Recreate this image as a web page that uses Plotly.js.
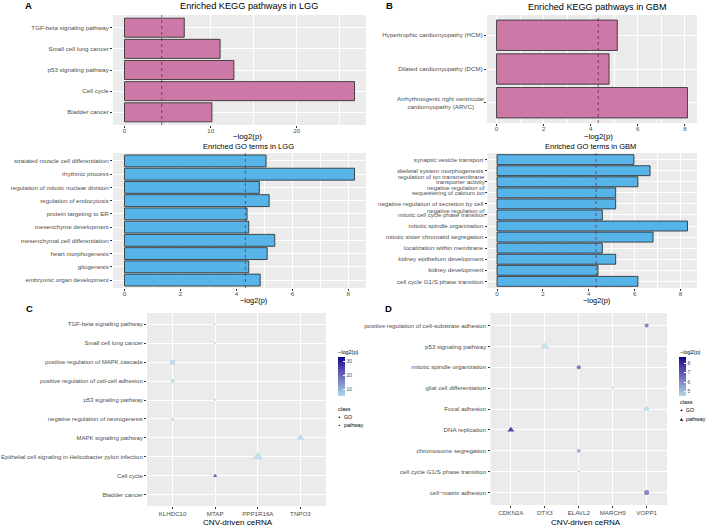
<!DOCTYPE html>
<html><head><meta charset="utf-8">
<script src="https://cdn.plot.ly/plotly-3.0.1.min.js"></script>
<style>html,body{margin:0;padding:0;background:#fff}#chart{width:708px;height:527px}</style>
</head><body><div id="chart"></div>
<script>
// ---------- Panel A : LGG ----------
const keggLggTerms = ["TGF-beta signaling pathway","Small cell lung cancer","p53 signaling pathway","Cell cycle","Bladder cancer"];
const keggLggVals  = [6.94, 11.1, 12.7, 26.7, 10.15];
const goLggTerms = ["straiated muscle cell differentiation","rhythmic process","regulation of mitotic nuclear division","regulation of endocytosis","protein targeting to ER","mesenchyme development","mesenchymal cell differentiation","heart morphogenesis","gliogenesis","embryonic organ development"];
const goLggVals  = [5.06, 8.22, 4.82, 5.17, 4.38, 4.44, 5.37, 5.10, 4.44, 4.85];
// ---------- Panel B : GBM ----------
const keggGbmTerms = ["Hypertrophic cardiomyopathy (HCM)","Dilated cardiomyopathy (DCM)","Arrhythmogenic right ventricular<br>cardiomyopathy (ARVC)"];
const keggGbmVals  = [5.13, 4.78, 8.11];
const goGbmTerms = ["synaptic vesicle transport","skeletal system morphogenesis","regulation of ion transmembrane<br>transporter activity","negative regulation of<br>sequestering of calcium ion","negative regulation of secretion by cell","negative regulation of<br>mitotic cell cycle phase transition","mitotic spindle organization","mitotic sister chromatid segregation","localization within membrane","kidney epithelium development","kidney development","cell cycle G1/S phase transition"];
const goGbmVals  = [5.97, 6.67, 6.14, 5.17, 5.17, 4.59, 8.30, 6.80, 4.59, 5.17, 4.40, 6.14];
const pCutoff = 4.32; // -log2(0.05)
// ---------- Panel C ----------
const cTerms = ["TGF-beta signaling pathway","Small cell lung cancer","positive regulation of MAPK cascade","positive regulation of cell-cell adhesion","p53 signaling pathway","negative regulation of neurogenesis","MAPK signaling pathway","Epithelial cell signaling in Helicobacter pylori infection","Cell cycle","Bladder cancer"];
const cGenes = ["KLHDC10","MTAP","PPP1R16A","TNPO3"];
const cPointTerm  = ["TGF-beta signaling pathway","Small cell lung cancer","positive regulation of MAPK cascade","positive regulation of cell-cell adhesion","p53 signaling pathway","negative regulation of neurogenesis","MAPK signaling pathway","Epithelial cell signaling in Helicobacter pylori infection","Cell cycle","Bladder cancer"];
const cPointGene  = ["MTAP","MTAP","KLHDC10","KLHDC10","MTAP","KLHDC10","TNPO3","PPP1R16A","MTAP","MTAP"];
const cPointVal   = [7.0, 11.1, 6.0, 5.6, 12.7, 5.3, 6.0, 5.0, 32.9, 10.1];
const cPointCount = [1, 1, 5.8, 3.3, 1, 2.3, 10.7, 20, 2.8, 0.2];
const cPointClass = ["pathway","pathway","GO","GO","pathway","GO","pathway","pathway","pathway","pathway"];
// ---------- Panel D ----------
const dTerms = ["positive regulation of cell-substrate adhesion","p53 signaling pathway","mitotic spindle organization","glial cell differentiation","Focal adhesion","DNA replication","chromosome segregation","cell cycle G1/S phase transition","cell\u2212matrix adhesion"];
const dGenes = ["CDKN2A","DTX3","ELAVL2","MARCH9","VOPP1"];
const dPointTerm  = ["positive regulation of cell-substrate adhesion","p53 signaling pathway","mitotic spindle organization","glial cell differentiation","Focal adhesion","DNA replication","chromosome segregation","cell cycle G1/S phase transition","cell\u2212matrix adhesion"];
const dPointGene  = ["VOPP1","DTX3","ELAVL2","MARCH9","VOPP1","CDKN2A","ELAVL2","ELAVL2","VOPP1"];
const dPointVal   = [7.2, 4.55, 7.6, 5.0, 4.7, 8.7, 6.2, 7.0, 7.2];
const dPointCount = [3.3, 12.6, 3.3, 0.83, 8.2, 7.7, 2.8, 0.35, 5.2];
const dPointClass = ["GO","pathway","GO","GO","pathway","pathway","GO","GO","GO"];

// ---------- helpers ----------
const W = 708, H = 527;
const px = x => x / W;
const py = y => 1 - y / H;
const FONT = "Liberation Sans, Arial, Helvetica, sans-serif";
const TICKCOL = '#4D4D4D';
const sizeOf = c => 2.2 * Math.sqrt(c);

// Lab interpolation (ggplot-style gradient) lightblue -> darkblue
function lin(c){c/=255;return c<=0.04045?c/12.92:Math.pow((c+0.055)/1.055,2.4);}
function unlin(c){c=c<=0.0031308?12.92*c:1.055*Math.pow(c,1/2.4)-0.055;return Math.max(0,Math.min(255,Math.round(c*255)));}
function rgb2lab(r,g,b){const R=lin(r),G=lin(g),B=lin(b);
  let X=(0.4124*R+0.3576*G+0.1805*B)/0.95047,Y=(0.2126*R+0.7152*G+0.0722*B),Z=(0.0193*R+0.1192*G+0.9505*B)/1.08883;
  const f=t=>t>0.008856?Math.cbrt(t):7.787*t+16/116;const fx=f(X),fy=f(Y),fz=f(Z);
  return [116*fy-16,500*(fx-fy),200*(fy-fz)];}
function lab2rgb(L,a,b){const fy=(L+16)/116,fx=fy+a/500,fz=fy-b/200;
  const fi=t=>t>0.206893?t*t*t:(t-16/116)/7.787;const X=fi(fx)*0.95047,Y=fi(fy),Z=fi(fz)*1.08883;
  const R=3.2406*X-1.5372*Y-0.4986*Z,G=-0.9689*X+1.8758*Y+0.0415*Z,B=0.0557*X-0.2040*Y+1.0570*Z;
  return 'rgb('+unlin(R)+','+unlin(G)+','+unlin(B)+')';}
const lo = rgb2lab(173,216,230), hi = rgb2lab(0,0,139);
const cscale = [];
for(let i=0;i<=10;i++){const t=i/10;cscale.push([t,lab2rgb(lo[0]+(hi[0]-lo[0])*t,lo[1]+(hi[1]-lo[1])*t,lo[2]+(hi[2]-lo[2])*t)]);}

const baseAxis = {
  showline:false, zeroline:false, gridcolor:'#FFFFFF', gridwidth:1,
  ticks:'outside', ticklen:2, tickwidth:0.6, tickcolor:'#333333',
  tickfont:{size:6.2,color:TICKCOL,family:FONT}, automargin:false, fixedrange:true
};
function xBar(l,r,vals,dtick,anchor){
  const m = Math.max(...vals);
  return Object.assign({},baseAxis,{domain:[px(l),px(r)],range:[-0.05*m,1.05*m],tick0:0,dtick:dtick,anchor:anchor,
    ticklabelstandoff:-2,
    minor:{dtick:dtick/2,tick0:0,showgrid:true,gridcolor:'#FFFFFF',gridwidth:0.5,ticks:''}});
}
// category y axis; multi-line labels are drawn as annotations (tight line spacing as in the reference)
function yCat(t,b,cats,anchor,fs){
  const ax = Object.assign({},baseAxis,{domain:[py(b),py(t)],type:'category',categoryorder:'array',categoryarray:cats,
    range:[cats.length-0.4,-0.6],anchor:anchor,tickmode:'array',tickvals:cats,
    ticktext:cats.map(c=>c.indexOf('<br>')>=0?'':c)});
  if(fs) ax.tickfont = {size:fs,color:TICKCOL,family:FONT};
  return ax;
}
function xCat(l,r,cats,anchor){
  return Object.assign({},baseAxis,{domain:[px(l),px(r)],type:'category',categoryorder:'array',categoryarray:cats,
    range:[-0.6,cats.length-0.4],anchor:anchor});
}
function catCenter(t,b,cats,i){ return t + (i+0.6)*(b-t)/(cats.length+0.2); }

function barTrace(vals,terms,color,xa,ya){
  return {type:'bar',orientation:'h',x:vals,y:terms,xaxis:xa,yaxis:ya,width:0.9,
    marker:{color:color,line:{color:'#222222',width:0.8}},hoverinfo:'x+y',showlegend:false};
}
function dotTraces(terms,genes,vals,counts,classes,xa,ya,cax){
  const out=[];
  [['GO','circle'],['pathway','triangle-up']].forEach(([cls,sym])=>{
    const idx=classes.map((c,i)=>c===cls?i:-1).filter(i=>i>=0);
    out.push({type:'scatter',mode:'markers',xaxis:xa,yaxis:ya,showlegend:false,name:cls,
      x:idx.map(i=>genes[i]),y:idx.map(i=>terms[i]),
      marker:{symbol:sym,size:idx.map(i=>sizeOf(counts[i])),color:idx.map(i=>vals[i]),coloraxis:cax,line:{width:0}}});
  });
  return out;
}

const PINK='#CC79A7', BLUE='#56B4E9';
const data = [
  barTrace(keggLggVals,keggLggTerms,PINK,'x','y'),
  barTrace(goLggVals,goLggTerms,BLUE,'x2','y2'),
  barTrace(keggGbmVals,keggGbmTerms,PINK,'x3','y3'),
  barTrace(goGbmVals,goGbmTerms,BLUE,'x4','y4'),
  ...dotTraces(cPointTerm,cPointGene,cPointVal,cPointCount,cPointClass,'x5','y5','coloraxis'),
  ...dotTraces(dPointTerm,dPointGene,dPointVal,dPointCount,dPointClass,'x6','y6','coloraxis2')
];

function ann(text,x,y,size,opt){
  return Object.assign({text:text,x:px(x),y:py(y),xref:'paper',yref:'paper',xanchor:'center',yanchor:'middle',
    showarrow:false,font:{size:size,color:'#000000',family:FONT}},opt||{});
}
const small = s => ({size:s,color:'#000',family:FONT});
const annotations = [
  ann('<b>A</b>',28.5,6,9.5), ann('<b>B</b>',389.5,6,9.5), ann('<b>C</b>',29.7,308,9.5), ann('<b>D</b>',388.7,308,9.5),
  ann('Enriched KEGG pathways in LGG',249,6,9.2),
  ann('\u2212log2(p)',247.5,136,7.8,{borderpad:0}),
  ann('Enriched GO terms in LGG',248.5,146.5,7.6,{borderpad:0}),
  ann('\u2212log2(p)',253,300,7.4,{borderpad:0}),
  ann('Enriched KEGG pathways in GBM',597,7,9.1),
  ann('\u2212log2(p)',598,136,7.8,{borderpad:0}),
  ann('Enriched GO terms in GBM',590,146.5,7.5,{borderpad:0}),
  ann('\u2212log2(p)',596.7,300,7.4,{borderpad:0}),
  ann('CNV-driven ceRNA',238,522,8.1),
  ann('CNV-driven ceRNA',586,522,8.1),
  ann('\u2212log2(p)',336,351.5,5.5,{xanchor:'left'}),
  ann('class',336,409,5.5,{xanchor:'left'}),
  ann('GO',341.5,417.3,5.2,{xanchor:'left',font:small(5.2)}),
  ann('pathway',341.5,425.3,5.2,{xanchor:'left',font:small(5.2)}),
  ann('\u2212log2(p)',677.5,351.5,5.5,{xanchor:'left'}),
  ann('class',677.5,401.7,5.5,{xanchor:'left'}),
  ann('GO',683.5,410.3,5.2,{xanchor:'left',font:small(5.2)}),
  ann('pathway',683.5,419.3,5.2,{xanchor:'left',font:small(5.2)})
];
// multi-line category labels
const tickFont = {size:6.2,color:TICKCOL,family:FONT};
keggGbmTerms.forEach((t,i)=>{
  if(t.indexOf('<br>')<0) return;
  annotations.push(ann(t,485.5,catCenter(15,123,keggGbmTerms,i),6.2,{xanchor:'right',align:'center',font:tickFont}));
});
goGbmTerms.forEach((t,i)=>{
  if(t.indexOf('<br>')<0) return;
  const c = catCenter(153,288,goGbmTerms,i), parts = t.split('<br>');
  annotations.push(ann(parts[0],485.5,c-4.4,6.0,{xanchor:'right',font:Object.assign({},tickFont,{size:6.0}),borderpad:0}));
  annotations.push(ann(parts[1],485.5,c+0.5,6.0,{xanchor:'right',font:Object.assign({},tickFont,{size:6.0}),borderpad:0}));
});

function cutLine(xa,ya,color){
  return {type:'line',xref:xa,yref:ya+' domain',x0:pCutoff,x1:pCutoff,y0:0,y1:1,layer:'above',
    line:{color:color,width:1,dash:'3px,3px'}};
}
function dotKey(x,y,d){return {type:'circle',xref:'paper',yref:'paper',x0:px(x-d/2),x1:px(x+d/2),y0:py(y+d/2),y1:py(y-d/2),
  fillcolor:'#000',line:{width:0}};}
function triKey(x,y,w){const h=w*0.87;return {type:'path',xref:'paper',yref:'paper',
  path:'M'+px(x-w/2)+','+py(y+h/2)+' L'+px(x+w/2)+','+py(y+h/2)+' L'+px(x)+','+py(y-h/2)+' Z',fillcolor:'#000',line:{width:0}};}

const shapes = [
  cutLine('x','y','rgba(120,20,75,0.7)'),
  cutLine('x2','y2','rgba(90,40,80,0.7)'),
  cutLine('x3','y3','rgba(120,20,75,0.7)'),
  cutLine('x4','y4','rgba(90,40,80,0.7)'),
  dotKey(339.3,417.3,1.6), triKey(339.3,425.3,1.8),
  dotKey(681.5,410.3,1.8), triKey(681.5,419.3,3.2)
];

function cbar(x,y,vals,tickvals){
  return {colorscale:cscale,cmin:Math.min(...vals),cmax:Math.max(...vals),
    colorbar:{x:px(x),xanchor:'left',xpad:0,y:py(y),yanchor:'top',ypad:0,len:39,lenmode:'pixels',thickness:7,thicknessmode:'pixels',
      outlinewidth:0,tickvals:tickvals,ticks:'inside',ticklen:2,tickwidth:0.6,tickcolor:'#FFFFFF',
      tickfont:{size:5,color:TICKCOL,family:FONT},title:{text:''}}};
}

const layout = {
  width:W,height:H,margin:{l:0,r:0,t:0,b:0},paper_bgcolor:'#FFFFFF',plot_bgcolor:'#EBEBEB',
  font:{family:FONT},showlegend:false,bargap:0.1,
  xaxis: xBar(113,366,keggLggVals,10,'y'),  yaxis: yCat(15,125,keggLggTerms,'x'),
  xaxis2:xBar(113,366,goLggVals,2,'y2'),    yaxis2:yCat(153,288,goLggTerms,'x2'),
  xaxis3:xBar(487,697,keggGbmVals,2,'y3'),  yaxis3:yCat(15,123,keggGbmTerms,'x3'),
  xaxis4:xBar(487.5,697,goGbmVals,2,'y4'),  yaxis4:yCat(153,288,goGbmTerms,'x4'),
  xaxis5:xCat(147,326,cGenes,'y5'),          yaxis5:yCat(313,506,cTerms,'x5',6.0),
  xaxis6:xCat(490.5,667,dGenes,'y6'),        yaxis6:yCat(313,505,dTerms,'x6'),
  coloraxis: cbar(337.7,357.3,cPointVal,[10,20,30]),
  coloraxis2:cbar(678.7,356.7,dPointVal,[5,6,7,8]),
  annotations:annotations, shapes:shapes
};
Plotly.newPlot('chart',data,layout,{displayModeBar:false,responsive:false});
</script></body></html>
